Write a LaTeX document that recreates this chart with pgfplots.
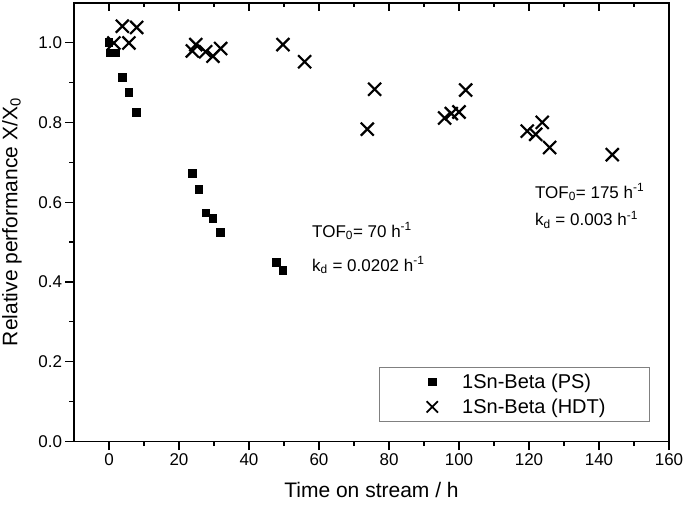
\documentclass[border=0pt]{standalone}
\usepackage{fontspec}
\setmainfont{Liberation Sans}
\usepackage{pgfplots}
\pgfplotsset{compat=1.18}
\begin{document}
\begin{tikzpicture}
\begin{axis}[
 at={(0,0)}, anchor=south west,
 scale only axis, width=595pt, height=438.8pt,
 xmin=-10, xmax=160, ymin=0, ymax=1.1,
 xtick={0,20,40,60,80,100,120,140,160}, minor x tick num=1,
 ytick={0,0.2,0.4,0.6,0.8,1.0}, minor y tick num=1,
 xtick pos=bottom, ytick pos=left, tick align=outside,
 major tick length=8.5pt, minor tick length=4.5pt,
 every tick/.style={black, line width=1.3pt},
 axis line style={line width=1.8pt},
 /pgf/number format/assume math mode=true,
 ticklabel style={font=\fontsize{17}{20}\selectfont},
 yticklabel style={/pgf/number format/.cd, fixed, fixed zerofill, precision=1},
 xlabel={Time on stream / h},
 ylabel={Relative performance X/X\textsubscript{0}},
 label style={font=\fontsize{21}{25}\selectfont},
 xlabel style={at={([yshift=-48pt]axis description cs:0.5,0)}, anchor=center},
 ylabel style={at={([xshift=-62pt]axis description cs:0,0.5)}, anchor=center},
 legend style={at={(axis description cs:0.5126,0.0449)}, anchor=south west,
   draw=gray, line width=0.8pt, font=\fontsize{20}{24}\selectfont,
   inner xsep=0pt, inner ysep=2pt, nodes={inner xsep=3pt, inner ysep=4.5pt}, row sep=0pt},
 legend cell align=left,
 legend image code/.code={\path (-52pt,0pt) (26pt,0pt); \draw[#1] plot coordinates {(0pt,0pt)};},
]
\addplot[only marks, mark=square*, mark size=3.9pt, black, line width=0.8pt] coordinates {
(0,1.0) (0.5,0.974) (1.9,0.974) (3.8,0.912) (5.7,0.876) (7.8,0.824)
(23.8,0.672) (25.7,0.632) (27.7,0.573) (29.7,0.559) (31.8,0.524)
(47.8,0.448) (49.7,0.429)
};
\addlegendentry{\makebox[184pt][l]{1Sn-Beta (PS)}}
\addplot[only marks, mark=x, mark size=9.2pt, black, line width=2.2pt,
  legend image post style={mark size=8pt, line width=1.8pt}] coordinates {
(1.4,0.999) (3.8,1.041) (5.7,0.999) (7.9,1.038)
(23.8,0.979) (24.8,0.995) (27.6,0.977) (29.7,0.966) (31.9,0.985)
(49.7,0.995) (55.9,0.952) (73.8,0.783) (75.9,0.883)
(95.9,0.811) (97.8,0.822) (100,0.826) (101.9,0.881)
(119.5,0.778) (121.9,0.770) (123.8,0.800) (125.9,0.737) (143.8,0.719)
};
\addlegendentry{\makebox[184pt][l]{1Sn-Beta (HDT)}}
\node[anchor=west, font=\fontsize{17}{20}\selectfont, inner sep=0pt] at (axis cs:58,0.527) {TOF\textsubscript{0}= 70 h\textsuperscript{-1}};
\node[anchor=west, font=\fontsize{17}{20}\selectfont, inner sep=0pt] at (axis cs:58,0.442) {k\textsubscript{d} = 0.0202 h\textsuperscript{-1}};
\node[anchor=west, font=\fontsize{17}{20}\selectfont, inner sep=0pt] at (axis cs:121.7,0.625) {TOF\textsubscript{0}= 175 h\textsuperscript{-1}};
\node[anchor=west, font=\fontsize{17}{20}\selectfont, inner sep=0pt] at (axis cs:121.7,0.555) {k\textsubscript{d} = 0.003 h\textsuperscript{-1}};
\end{axis}
\begin{axis}[
 at={(0,0)}, anchor=south west,
 scale only axis, width=595pt, height=438.8pt,
 xmin=-10, xmax=160, ymin=0, ymax=1.1,
 xtick={0,20,40,60,80,100,120,140,160}, minor x tick num=1,
 ytick=\empty, xticklabels={},
 xtick pos=top, tick align=inside,
 major tick length=8.5pt, minor tick length=4.5pt,
 every tick/.style={black, line width=1.3pt},
 axis line style={line width=1.8pt},
]
\end{axis}
\pgfresetboundingbox
\path (-74pt,-64.5pt) rectangle (611pt,441.5pt);
\end{tikzpicture}
\end{document}
